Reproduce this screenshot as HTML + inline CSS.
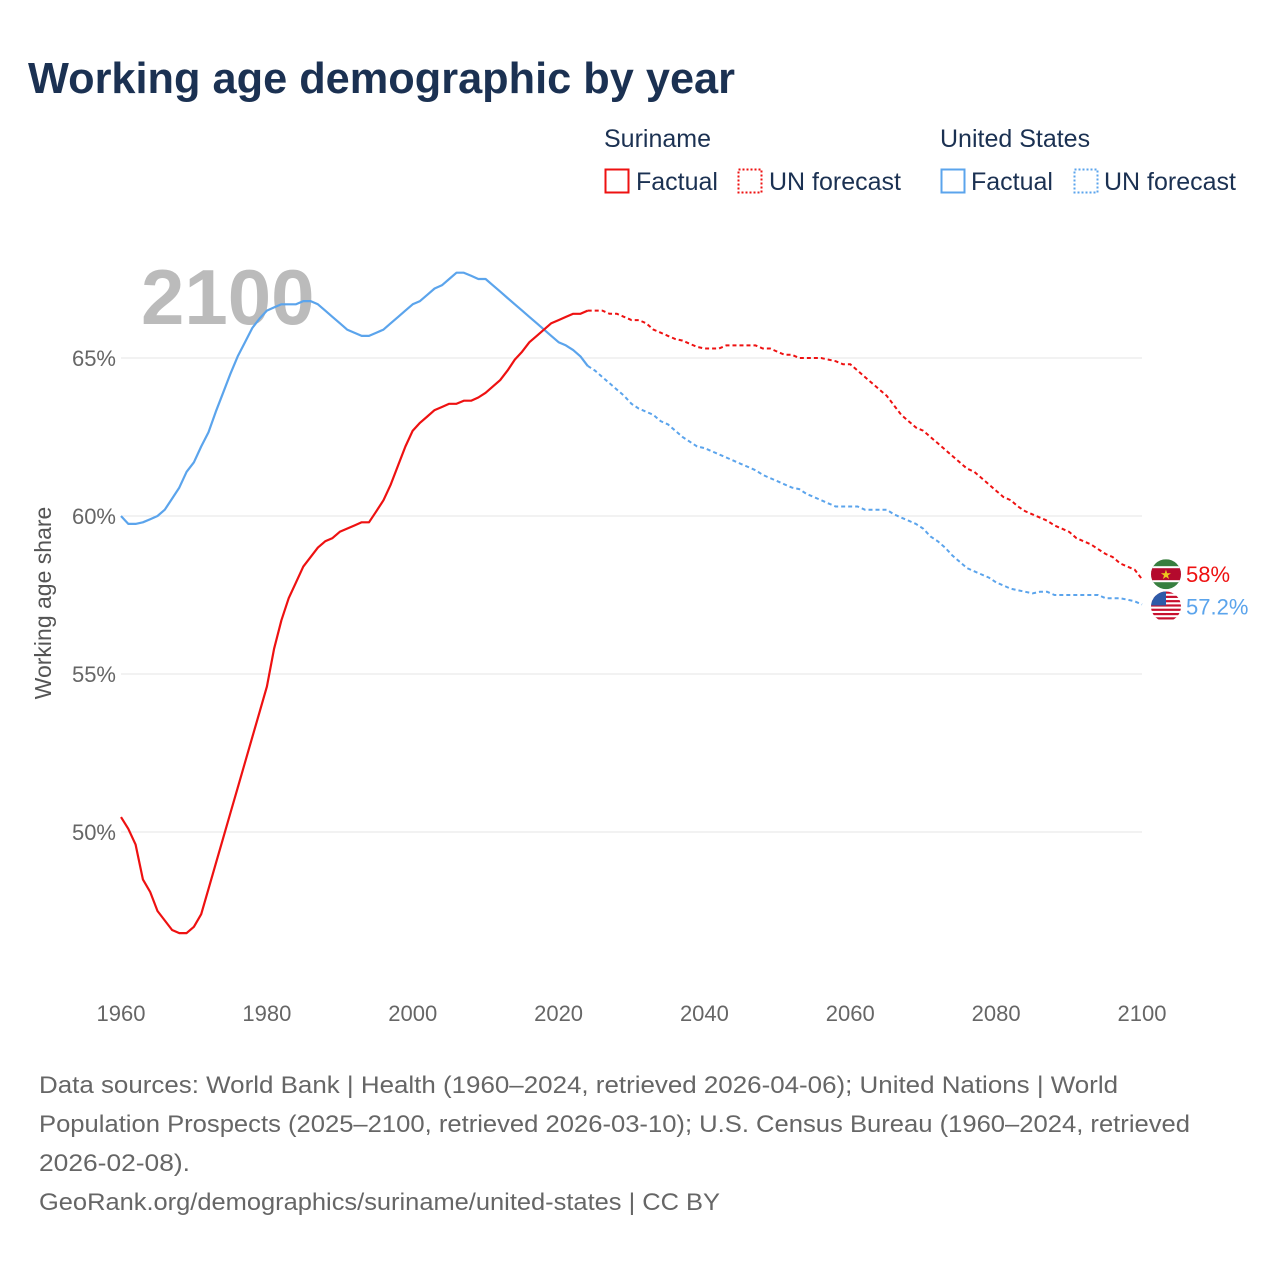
<!DOCTYPE html>
<html><head><meta charset="utf-8"><style>
body{margin:0;background:#fff;width:1280px;height:1280px;overflow:hidden;font-family:"Liberation Sans",sans-serif}
</style></head><body>
<svg id="c" width="1280" height="1280" xmlns="http://www.w3.org/2000/svg">
<text x="28" y="93" font-size="44" font-weight="bold" fill="#1b3152" textLength="707" lengthAdjust="spacingAndGlyphs">Working age demographic by year</text>
<g font-size="25" fill="#1b3152">
<text x="604" y="147">Suriname</text>
<rect x="605.5" y="169.5" width="23" height="23" fill="none" stroke="#ee1111" stroke-width="2"/>
<text x="636" y="190">Factual</text>
<rect x="738.5" y="169.5" width="23" height="23" fill="none" stroke="#ee1111" stroke-width="2" stroke-dasharray="2,2"/>
<text x="769" y="190">UN forecast</text>
<text x="940" y="147">United States</text>
<rect x="941.5" y="169.5" width="23" height="23" fill="none" stroke="#5ba4ec" stroke-width="2"/>
<text x="971" y="190">Factual</text>
<rect x="1074.5" y="169.5" width="23" height="23" fill="none" stroke="#5ba4ec" stroke-width="2" stroke-dasharray="2,2"/>
<text x="1104" y="190">UN forecast</text>
</g>
<text x="141" y="324" font-size="78" font-weight="bold" fill="#bbbbbb">2100</text>
<text transform="translate(51,603) rotate(-90)" text-anchor="middle" font-size="23" fill="#555">Working age share</text>
<g id="grid"></g><g id="lines"></g><g id="ends"></g>
<g font-size="24" fill="#666">
<text x="39" y="1093" textLength="1079" lengthAdjust="spacingAndGlyphs">Data sources: World Bank | Health (1960–2024, retrieved 2026-04-06); United Nations | World</text>
<text x="39" y="1132" textLength="1151" lengthAdjust="spacingAndGlyphs">Population Prospects (2025–2100, retrieved 2026-03-10); U.S. Census Bureau (1960–2024, retrieved</text>
<text x="39" y="1171" textLength="151" lengthAdjust="spacingAndGlyphs">2026-02-08).</text>
<text x="39" y="1210" textLength="681" lengthAdjust="spacingAndGlyphs">GeoRank.org/demographics/suriname/united-states | CC BY</text>
</g>
</svg>
<script>
const yTicks=[50,55,60,65];
const yTickLabels=["50%","55%","60%","65%"];
const xTicks=[1960,1980,2000,2020,2040,2060,2080,2100];
const startYear=1960;
const lastFactualYear=2024;
const suriname=[50.47,50.1,49.6,48.5,48.1,47.5,47.2,46.9,46.8,46.8,47.0,47.4,48.2,49.0,49.8,50.6,51.4,52.2,53.0,53.8,54.6,55.8,56.7,57.4,57.9,58.4,58.7,59.0,59.2,59.3,59.5,59.6,59.7,59.8,59.8,60.15,60.5,61.0,61.6,62.2,62.7,62.95,63.15,63.35,63.45,63.55,63.55,63.65,63.65,63.75,63.9,64.1,64.3,64.6,64.95,65.2,65.5,65.7,65.9,66.1,66.2,66.3,66.4,66.4,66.5,
66.5,66.5,66.4,66.4,66.3,66.2,66.2,66.1,65.9,65.8,65.7,65.6,65.55,65.45,65.35,65.3,65.3,65.3,65.4,65.4,65.4,65.4,65.4,65.3,65.3,65.2,65.1,65.1,65.0,65.0,65.0,65.0,64.95,64.9,64.8,64.8,64.6,64.4,64.2,64.0,63.8,63.5,63.2,63.0,62.8,62.7,62.5,62.3,62.1,61.9,61.7,61.5,61.4,61.2,61.0,60.8,60.6,60.5,60.3,60.15,60.05,59.95,59.85,59.7,59.6,59.5,59.3,59.2,59.1,58.95,58.8,58.7,58.5,58.4,58.3,58.0];
const unitedStates=[60.0,59.75,59.75,59.8,59.9,60.0,60.2,60.55,60.9,61.4,61.7,62.2,62.65,63.3,63.9,64.5,65.05,65.5,65.95,66.25,66.5,66.6,66.7,66.7,66.7,66.8,66.8,66.7,66.5,66.3,66.1,65.9,65.8,65.7,65.7,65.8,65.9,66.1,66.3,66.5,66.7,66.8,67.0,67.2,67.3,67.5,67.7,67.7,67.6,67.5,67.5,67.3,67.1,66.9,66.7,66.5,66.3,66.1,65.9,65.7,65.5,65.4,65.25,65.05,64.75,
64.6,64.4,64.2,64.0,63.8,63.55,63.4,63.3,63.2,63.0,62.9,62.7,62.5,62.35,62.2,62.15,62.05,61.95,61.85,61.75,61.65,61.55,61.45,61.3,61.2,61.1,61.0,60.9,60.85,60.7,60.6,60.5,60.4,60.3,60.3,60.3,60.3,60.2,60.2,60.2,60.2,60.05,59.95,59.85,59.75,59.6,59.35,59.2,59.0,58.75,58.55,58.35,58.25,58.15,58.05,57.9,57.8,57.7,57.65,57.6,57.55,57.6,57.6,57.5,57.5,57.5,57.5,57.5,57.5,57.5,57.4,57.4,57.4,57.35,57.3,57.2];
const NS="http://www.w3.org/2000/svg";
const X=yr=>121+(yr-1960)*(1021/140);
const Y=v=>832-(v-50)*31.6;
function mk(tag,attrs,parent){const e=document.createElementNS(NS,tag);for(const k in attrs)e.setAttribute(k,attrs[k]);parent.appendChild(e);return e;}
const grid=document.getElementById('grid');
yTicks.forEach((t,i)=>{
 const l=mk('line',{x1:121,x2:1142,y1:Y(t),y2:Y(t),stroke:'#e6e6e6','stroke-width':1},grid);
 
 
 const tx=mk('text',{x:116,y:Y(t)+8,'text-anchor':'end','font-size':22,fill:'#666'},grid);
 tx.textContent=yTickLabels[i];
 
 
});
xTicks.forEach(t=>{
 const tx=mk('text',{x:X(t),y:1021,'text-anchor':'middle','font-size':22,fill:'#666'},grid);
 tx.textContent=t;
 
 
});
const lines=document.getElementById('lines');
function draw(arr,color,name){
 const fi=lastFactualYear-startYear;
 const pts=arr.map((v,i)=>X(startYear+i).toFixed(1)+','+Y(v).toFixed(1));
 const a=mk('polyline',{points:pts.slice(0,fi+1).join(' '),fill:'none',stroke:color,'stroke-width':2.2,'stroke-linejoin':'round'},lines);
 
 
 const b=mk('polyline',{points:pts.slice(fi).join(' '),fill:'none',stroke:color,'stroke-width':2,'stroke-dasharray':'4,3'},lines);
 
 
}
draw(unitedStates,'#5ba4ec','united-states');
draw(suriname,'#ee1111','suriname');
const ends=document.getElementById('ends');
function endLabel(arr,color,name,flag,dy){
 const v=arr[arr.length-1];const y=Y(v)+dy;const cx=1166;
 const g=mk('g',{},ends);
 
 
 const cp=mk('clipPath',{id:'cp'+name},g);mk('circle',{cx:cx,cy:y,r:15},cp);
 const fg=mk('g',{'clip-path':'url(#cp'+name+')'},g);
 if(flag==='sr'){
  mk('rect',{x:cx-15,y:y-15,width:30,height:30,fill:'#377e3f'},fg);
  mk('rect',{x:cx-15,y:y-8,width:30,height:16,fill:'#fff'},fg);
  mk('rect',{x:cx-15,y:y-6,width:30,height:12,fill:'#b40a2d'},fg);
  mk('text',{x:cx,y:y+5,'text-anchor':'middle','font-size':13,fill:'#ecc81d'},fg).textContent='★';
 }else{
  mk('rect',{x:cx-15,y:y-15,width:30,height:30,fill:'#fff'},fg);
  for(let i=0;i<7;i++)mk('rect',{x:cx-15,y:y-15+i*4.3,width:30,height:2.2,fill:'#c8102e'},fg);
  mk('rect',{x:cx-15,y:y-15,width:15,height:14,fill:'#2e5aa8'},fg);
 }
 const t=mk('text',{x:1186,y:y+8,'font-size':22,fill:color},g);
 t.textContent=(Math.round(v*10)/10)+'%';
}
endLabel(suriname,'#ee1111','suriname','sr',-5);
endLabel(unitedStates,'#5ba4ec','united-states','us',2);
</script>
</body></html>
